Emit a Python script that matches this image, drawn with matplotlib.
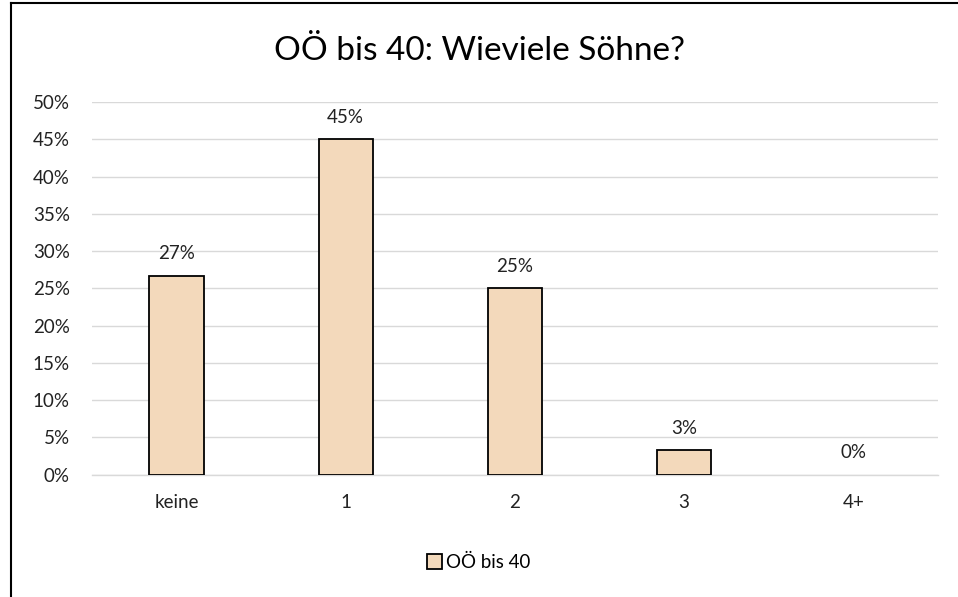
import matplotlib
matplotlib.use("Agg")
import matplotlib.pyplot as plt
from matplotlib.lines import Line2D
from matplotlib.ticker import FuncFormatter, MultipleLocator

categories = ["keine", "1", "2", "3", "4+"]
values = [26.7, 45.0, 25.0, 3.3, 0.0]
labels = ["27%", "45%", "25%", "3%", "0%"]
series_name = "OÖ bis 40"
title = "OÖ bis 40: Wieviele Söhne?"

plt.rcParams['font.family'] = ['Lato', 'DejaVu Sans']

fig = plt.figure(figsize=(9.58, 5.97), dpi=100)
ax = fig.add_axes([0.096, 0.205, 0.883, 0.624])

x = list(range(len(categories)))
edges = ["black" if v > 0 else "none" for v in values]
bars = ax.bar(x, values, width=0.32, color="#F3D9BB", edgecolor=edges,
              linewidth=1.3, label=series_name, zorder=3)
for xi, v, lab in zip(x, values, labels):
    ax.text(xi, v + 1.8, lab, ha="center", va="bottom", fontsize=13.5, color="#222222")

ax.set_xlim(-0.5, len(categories) - 0.5)
ax.set_ylim(0, 50)
ax.yaxis.set_major_locator(MultipleLocator(5))
ax.yaxis.set_major_formatter(FuncFormatter(lambda v, p: f"{v:.0f}%"))
ax.grid(axis="y", color="#D9D9D9", linewidth=1.0, zorder=0)
ax.set_xticks(x)
ax.set_xticklabels(categories)
ax.tick_params(axis="both", length=0, labelsize=13.5, colors="#222222")
ax.tick_params(axis="x", pad=14)
ax.tick_params(axis="y", pad=16)
for s in ["top", "right", "left"]:
    ax.spines[s].set_visible(False)
ax.spines["bottom"].set_color("#D9D9D9")
ax.spines["bottom"].set_linewidth(1.0)

fig.text(0.5, 0.914, title, ha="center", va="center", fontsize=24, color="black")

leg = fig.legend(handles=[bars], labels=[series_name], loc="center",
                 bbox_to_anchor=(0.5, 0.058), frameon=False, fontsize=13.5,
                 handlelength=0.8, handleheight=0.8, handletextpad=0.2)
leg.legend_handles[0].set_edgecolor("black")

# figure border (left and top)
fig.add_artist(Line2D([0.0115, 0.0115], [0.0, 0.995], transform=fig.transFigure,
                      color="black", linewidth=1.5))
fig.add_artist(Line2D([0.0115, 1.0], [0.995, 0.995], transform=fig.transFigure,
                      color="black", linewidth=1.5))

fig.savefig("out.png", dpi=100, facecolor="white")
